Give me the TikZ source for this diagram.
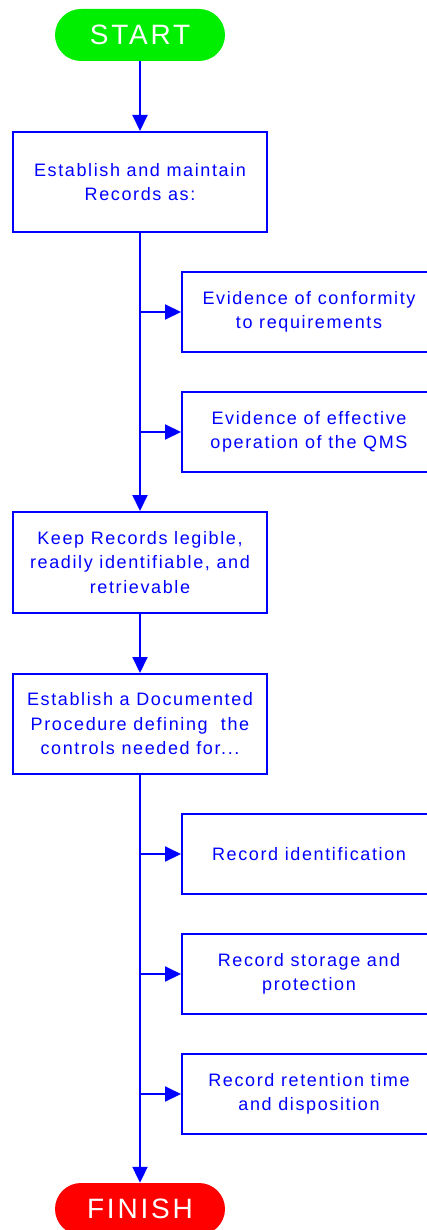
\documentclass[tikz,border=0pt]{standalone}
\usepackage{fontspec}
\usetikzlibrary{arrows.meta}
\newfontfamily\boxfont[LetterSpace=9]{Liberation Sans}
\newfontfamily\termfont[LetterSpace=10]{Liberation Sans}
\definecolor{flowblue}{RGB}{0,0,255}
\definecolor{startgreen}{RGB}{0,238,0}
\definecolor{finishred}{RGB}{255,0,0}
\begin{document}
\begin{tikzpicture}[x=1pt,y=-1pt,
  stepbox/.style={draw=flowblue, line width=2pt, rectangle, align=center,
    text=flowblue, font=\boxfont\fontsize{18}{24.5}\selectfont,
    minimum width=254pt, inner sep=0pt},
  terminal/.style={rectangle, rounded corners=26pt, minimum width=170pt,
    minimum height=52pt, text=white, inner sep=0pt,
    font=\termfont\fontsize{28}{30}\selectfont},
  arr/.style={draw=flowblue, line width=2pt,
    -{Triangle[length=16pt,width=15pt]}}
]
\useasboundingbox (0,0) rectangle (427,1230);

% terminals
\node[terminal, fill=startgreen] (start) at (140,35) {START};
\node[terminal, fill=finishred] (finish) at (140,1209) {FINISH};

% main column
\node[stepbox, minimum height=100pt] (records) at (140,182)
  {Establish and maintain\\Records as:};
\node[stepbox, minimum height=101pt] (keep) at (140,562.5)
  {Keep Records legible,\\readily identifiable, and\\retrievable};
\node[stepbox, minimum height=100pt] (proc) at (140,724)
  {Establish a Documented\\Procedure defining~ the\\controls needed for...};

% side column
\node[stepbox, minimum height=80pt] (conf) at (309,312)
  {Evidence of conformity\\to requirements};
\node[stepbox, minimum height=80pt] (oper) at (309,432)
  {Evidence of effective\\operation of the QMS};
\node[stepbox, minimum height=80pt] (ident) at (309,854)
  {Record identification};
\node[stepbox, minimum height=80pt] (store) at (309,974)
  {Record storage and\\protection};
\node[stepbox, minimum height=80pt] (retain) at (309,1094)
  {Record retention time\\and disposition};

% connectors
\draw[arr] (start) -- (records);
\draw[arr] (records) -- (keep);
\draw[arr] (keep) -- (proc);
\draw[arr] (proc) -- (finish);
\draw[arr] (records.south |- conf.west) -- (conf.west);
\draw[arr] (records.south |- oper.west) -- (oper.west);
\draw[arr] (proc.south |- ident.west) -- (ident.west);
\draw[arr] (proc.south |- store.west) -- (store.west);
\draw[arr] (proc.south |- retain.west) -- (retain.west);
\end{tikzpicture}
\end{document}
